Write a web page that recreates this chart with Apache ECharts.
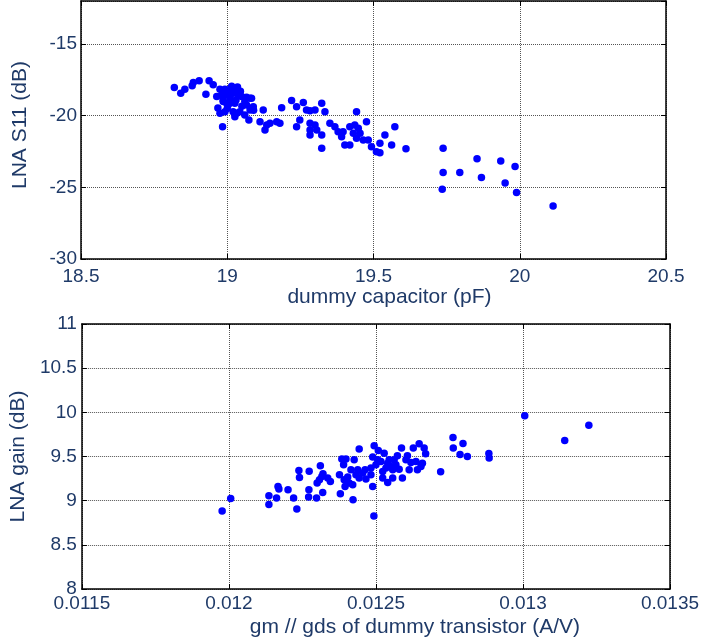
<!DOCTYPE html>
<html>
<head>
<meta charset="utf-8">
<script src="https://cdn.jsdelivr.net/npm/echarts@6/dist/echarts.min.js"></script>
<style>
  html, body { margin: 0; padding: 0; background: #ffffff; }
  #chart { width: 704px; height: 642px; }
</style>
</head>
<body>
<div id="chart"></div>
<script>
// Upper panel: input match vs. dummy capacitor value
const capValues = [
  18.819, 18.841, 18.855, 18.880, 18.884, 18.904, 18.938, 18.952, 18.927, 18.975,
  18.992, 19.009, 19.026, 18.981, 18.998, 19.020, 19.038, 19.049, 19.066, 19.078,
  19.060, 19.026, 18.986, 19.003, 18.968, 18.992, 19.020, 19.060, 19.078, 19.089,
  19.123, 19.074, 18.984, 19.026, 19.112, 19.135, 19.129, 19.146, 19.169, 19.180,
  19.090, 19.186, 19.220, 19.237, 19.260, 19.271, 19.283, 19.300, 19.323, 19.334,
  19.248, 19.237, 19.283, 19.300, 19.283, 19.306, 19.323, 19.283, 19.323, 19.351,
  19.368, 19.379, 19.391, 19.402, 19.419, 19.396, 19.419, 19.436, 19.448, 19.454,
  19.476, 19.442, 19.431, 19.442, 19.465, 19.482, 19.493, 19.510, 19.522, 19.539,
  19.573, 19.562, 19.522, 19.611, 19.738, 19.738, 19.795, 19.735, 19.854, 19.869,
  19.935, 19.950, 19.984, 19.989, 20.114,
  18.964, 18.986, 18.998, 19.032, 18.975, 19.043, 19.066, 19.083, 19.015, 19.035,
  19.045, 18.995, 19.010, 19.030, 19.050, 19.000, 19.012
];
const s11Values = [
  -18.04, -18.43, -18.15, -17.92, -17.69, -17.57, -17.57, -17.85, -18.50, -18.15,
  -18.15, -18.15, -18.15, -18.55, -18.55, -18.43, -18.55, -18.67, -18.71, -18.78,
  -19.02, -19.13, -19.02, -19.25, -19.46, -19.72, -19.72, -19.95, -19.60, -19.37,
  -19.60, -20.30, -20.77, -20.07, -20.42, -20.65, -21.00, -20.53, -20.42, -20.53,
  -19.62, -19.44, -18.95, -19.37, -19.09, -19.60, -19.65, -19.60, -19.13, -19.72,
  -20.30, -20.77, -20.53, -20.65, -21.00, -21.00, -21.35, -21.35, -22.28, -20.53,
  -20.77, -21.12, -21.47, -22.05, -22.05, -21.12, -20.77, -20.65, -20.88, -21.23,
  -20.42, -19.72, -21.23, -21.58, -21.70, -21.70, -22.17, -22.52, -21.93, -21.35,
  -20.77, -22.05, -22.59, -22.31, -22.28, -23.96, -23.96, -25.13, -23.01, -24.31,
  -23.17, -24.69, -23.54, -25.36, -26.31,
  -18.67, -18.90, -19.13, -19.83, -19.83, -19.72, -19.25, -18.78, -17.95, -18.00,
  -18.30, -18.35, -18.80, -18.90, -19.35, -19.50, -19.10
];
const capTicks = { min: 18.5, max: 20.5, interval: 0.5 };
const s11Ticks = { min: -30, max: -12, interval: 5 };

// Lower panel: gain vs. gm/gds of the dummy transistor
const gmValues = [
  0.011977, 0.012006, 0.012136, 0.012136, 0.012162, 0.012167, 0.012170, 0.012201, 0.012220, 0.012231,
  0.012238, 0.012240, 0.012273, 0.012272, 0.012271, 0.012298, 0.012300, 0.012308, 0.012311, 0.012316,
  0.012319, 0.012320, 0.012336, 0.012345, 0.012379, 0.012376, 0.012384, 0.012398, 0.012390, 0.012392,
  0.012404, 0.012395, 0.012409, 0.012421, 0.012415, 0.012426, 0.012422, 0.012432, 0.012438, 0.012443,
  0.012443, 0.012455, 0.012463, 0.012466, 0.012483, 0.012489, 0.012483, 0.012489, 0.012494, 0.012500,
  0.012493, 0.012508, 0.012506, 0.012517, 0.012528, 0.012523, 0.012534, 0.012540, 0.012545, 0.012551,
  0.012557, 0.012540, 0.012523, 0.012557, 0.012562, 0.012573, 0.012568, 0.012579, 0.012587, 0.012590,
  0.012602, 0.012607, 0.012613, 0.012619, 0.012627, 0.012636, 0.012641, 0.012647, 0.012653, 0.012658,
  0.012664, 0.012669, 0.012720, 0.012762, 0.012763, 0.012796, 0.012786, 0.012811, 0.012884, 0.012885,
  0.013006, 0.013142, 0.013224
];
const gainValues = [
  8.882, 9.025, 9.055, 8.957, 9.029, 9.161, 9.131, 9.123, 9.029, 8.905,
  9.342, 9.262, 9.333, 9.123, 9.041, 9.029, 9.199, 9.236, 9.395, 9.274,
  9.093, 9.305, 9.256, 9.217, 9.078, 9.293, 9.471, 9.471, 9.406, 9.236,
  9.267, 9.161, 9.199, 9.180, 9.350, 9.463, 9.010, 9.293, 9.350, 9.584,
  9.256, 9.312, 9.350, 9.244, 9.369, 9.493, 9.293, 9.161, 9.621, 9.406,
  8.826, 9.568, 9.463, 9.443, 9.538, 9.330, 9.369, 9.425, 9.463, 9.387,
  9.350, 9.206, 9.256, 9.256, 9.463, 9.508, 9.406, 9.357, 9.595, 9.256,
  9.463, 9.508, 9.350, 9.432, 9.595, 9.443, 9.350, 9.644, 9.387, 9.425,
  9.595, 9.531, 9.327, 9.715, 9.595, 9.647, 9.523, 9.500, 9.534, 9.482,
  9.960, 9.681, 9.855
];
const gmTicks = { min: 0.0115, max: 0.0135, interval: 0.0005 };
const gainTicks = { min: 8, max: 11, interval: 0.5 };

const textColor = '#1f3a68';
const fontFamily = '"Liberation Sans", Arial, sans-serif';
const markerColor = '#0000ff';

const zip = (xs, ys) => xs.map((x, i) => [x, ys[i]]);

const boxLine = { show: true, onZero: false, lineStyle: { color: '#000', width: 1.5 } };
const inTicks = { show: true, inside: true, length: 5, lineStyle: { color: '#000', width: 1 } };
const dotGrid = { show: true, lineStyle: { color: '#555', width: 1, type: [1, 1] } };
const tickLabel = (margin, extra) => Object.assign({
  color: textColor, fontFamily: fontFamily, fontSize: 19, margin: margin,
  showMaxLabel: true, showMinLabel: true
}, extra || {});
const titleStyle = (pad) => ({ color: textColor, fontFamily: fontFamily, fontSize: 21, padding: pad });

// main (labelled) axis plus a mirror axis that closes the box with inward ticks
function axisPair(gridIndex, ticks, label, name, nameGap, pad, mirrorPos) {
  const main = Object.assign({
    type: 'value', gridIndex: gridIndex,
    name: name, nameLocation: 'middle', nameGap: nameGap, nameTextStyle: titleStyle(pad),
    axisLine: boxLine, axisTick: inTicks, splitLine: dotGrid, axisLabel: label
  }, ticks);
  const mirror = Object.assign({
    type: 'value', gridIndex: gridIndex, position: mirrorPos,
    axisLine: boxLine, axisTick: inTicks, splitLine: { show: false }, axisLabel: { show: false }
  }, ticks);
  return [main, mirror];
}

const gmFmt = v => String(+v.toFixed(4));

const xAxes = [
  ...axisPair(0, capTicks, tickLabel(8), 'dummy capacitor (pF)', 27, [0, 0, 0, 32], 'top'),
  ...axisPair(1, gmTicks, tickLabel(5, { formatter: gmFmt }), 'gm // gds of dummy transistor (A/V)', 28, [0, 0, 0, 78], 'top')
];
const yAxes = [
  ...axisPair(0, s11Ticks, tickLabel(4, { showMaxLabel: false }), 'LNA S11 (dB)', 50, [0, 0, 0, 10], 'right'),
  ...axisPair(1, gainTicks, tickLabel(5), 'LNA gain (dB)', 50, [0, 0, 0, 0], 'right')
];

const dotStyle = { color: markerColor, opacity: 1 };

const chart = echarts.init(document.getElementById('chart'), null, { renderer: 'canvas' });
chart.setOption({
  animation: false,
  backgroundColor: '#ffffff',
  grid: [
    { left: 81, top: 1, width: 585, height: 258 },
    { left: 80, top: 324, width: 590, height: 265 }
  ],
  xAxis: xAxes,
  yAxis: yAxes,
  series: [
    {
      type: 'scatter', xAxisIndex: 0, yAxisIndex: 0,
      data: zip(capValues, s11Values),
      symbol: 'circle', symbolSize: 7.5,
      itemStyle: dotStyle
    },
    {
      type: 'scatter', xAxisIndex: 2, yAxisIndex: 2,
      data: zip(gmValues, gainValues),
      symbol: 'circle', symbolSize: 7.5,
      itemStyle: dotStyle
    }
  ]
});
</script>
</body>
</html>
